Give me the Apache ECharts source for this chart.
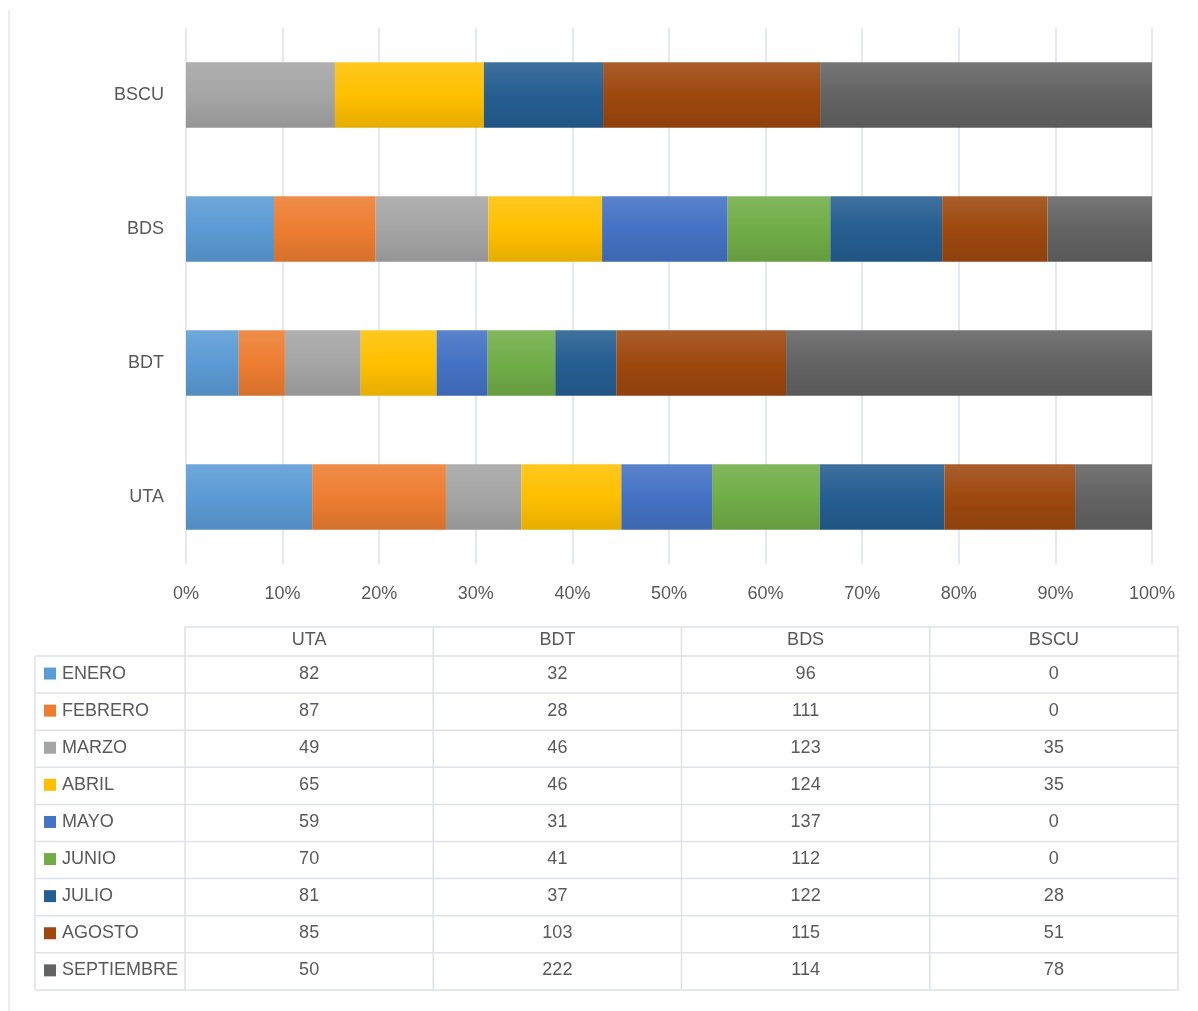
<!DOCTYPE html>
<html>
<head>
<meta charset="utf-8">
<script src="https://cdn.jsdelivr.net/npm/echarts@6/dist/echarts.min.js"></script>
<style>
  html, body { margin: 0; padding: 0; background: #fff; }
  #chart { width: 1198px; height: 1011px; }
</style>
</head>
<body>
<div id="chart"></div>
<script>
// datos
const categories = ['UTA', 'BDT', 'BDS', 'BSCU']
const months = ['ENERO', 'FEBRERO', 'MARZO', 'ABRIL', 'MAYO', 'JUNIO', 'JULIO', 'AGOSTO', 'SEPTIEMBRE']
const enero = [82, 32, 96, 0]
const febrero = [87, 28, 111, 0]
const marzo = [49, 46, 123, 35]
const abril = [65, 46, 124, 35]
const mayo = [59, 31, 137, 0]
const junio = [70, 41, 112, 0]
const julio = [81, 37, 122, 28]
const agosto = [85, 103, 115, 51]
const septiembre = [50, 222, 114, 78]
const xTicks = [0, 10, 20, 30, 40, 50, 60, 70, 80, 90, 100]

const values = [enero, febrero, marzo, abril, mayo, junio, julio, agosto, septiembre]
const colors = ['#5B9BD5', '#ED7D31', '#A5A5A5', '#FFC000', '#4472C4', '#70AD47', '#255E91', '#9E480E', '#636363']

// aclarar / oscurecer un color
function shade (hex, amt) {
  let n = parseInt(hex.slice(1), 16)
  let r = (n >> 16) & 255, g = (n >> 8) & 255, b = n & 255
  const f = c => {
    let v = amt > 0 ? c + (255 - c) * amt : c * (1 + amt)
    return Math.max(0, Math.min(255, Math.round(v)))
  }
  return 'rgb(' + f(r) + ',' + f(g) + ',' + f(b) + ')'
}

// totales por categoria para el 100%
const totals = categories.map((c, j) => values.reduce((s, arr) => s + arr[j], 0))

const series = months.map((m, i) => ({
  name: m,
  type: 'bar',
  stack: 'total',
  barCategoryGap: '51%',
  data: values[i].map((v, j) => v / totals[j] * 100),
  itemStyle: {
    color: {
      type: 'linear', x: 0, y: 0, x2: 0, y2: 1,
      colorStops: [
        { offset: 0, color: shade(colors[i], 0.12) },
        { offset: 0.5, color: colors[i] },
        { offset: 1, color: shade(colors[i], -0.1) }
      ]
    }
  }
}))

// tabla de datos (debajo del grafico)
const textColor = '#595959'
const lineColor = '#DDE2EA'
const fontFamily = '"Liberation Sans", Arial, sans-serif'
const tLeft = 35, tKey = 185, tRight = 1178
const headTop = 627, headBottom = 656, rowH = 37.1
const colW = (tRight - tKey) / categories.length
const tBottom = headBottom + rowH * months.length

const graphic = []
const line = (x1, y1, x2, y2, col) => graphic.push({
  type: 'line', silent: true,
  shape: { x1: x1, y1: y1, x2: x2, y2: y2 },
  style: { stroke: col || lineColor, lineWidth: 1.5 }
})
const text = (x, y, t, align) => graphic.push({
  type: 'text', silent: true, x: x, y: y,
  style: { text: t, fill: textColor, font: '18px ' + fontFamily, align: align || 'center', verticalAlign: 'middle' }
})

// borde izquierdo del area del grafico
line(9, 10, 9, 1011, '#E3E7EE')

line(tKey, headTop, tRight, headTop)
for (let r = 0; r <= months.length; r++) {
  line(tLeft, headBottom + r * rowH, tRight, headBottom + r * rowH)
}
line(tLeft, headBottom, tLeft, tBottom)
for (let c = 0; c <= categories.length; c++) {
  line(tKey + c * colW, headTop, tKey + c * colW, tBottom)
}
categories.forEach((c, j) => text(tKey + colW * (j + 0.5), headTop + 13, c))
months.forEach((m, i) => {
  const cy = headBottom + rowH * (i + 0.5) - 1
  graphic.push({
    type: 'rect', silent: true,
    shape: { x: 44, y: cy - 6, width: 12, height: 12 },
    style: { fill: colors[i] }
  })
  text(62, cy, m, 'left')
  values[i].forEach((v, j) => text(tKey + colW * (j + 0.5), cy, String(v)))
})

const myChart = echarts.init(document.getElementById('chart'))
myChart.setOption({
  animation: false,
  textStyle: { fontFamily: fontFamily },
  grid: { left: 186, right: 46, top: 28, bottom: 447, containLabel: false },
  xAxis: {
    type: 'value',
    min: xTicks[0],
    max: xTicks[xTicks.length - 1],
    interval: 10,
    axisLine: { show: false },
    axisTick: { show: false },
    splitLine: { show: true, lineStyle: { color: lineColor, width: 1.5 } },
    axisLabel: { color: textColor, fontSize: 18, margin: 21, formatter: '{value}%' }
  },
  yAxis: {
    type: 'category',
    data: categories,
    axisLine: { show: false },
    axisTick: { show: false },
    axisLabel: { color: textColor, fontSize: 18, margin: 22 }
  },
  series: series,
  graphic: graphic
})
</script>
</body>
</html>
